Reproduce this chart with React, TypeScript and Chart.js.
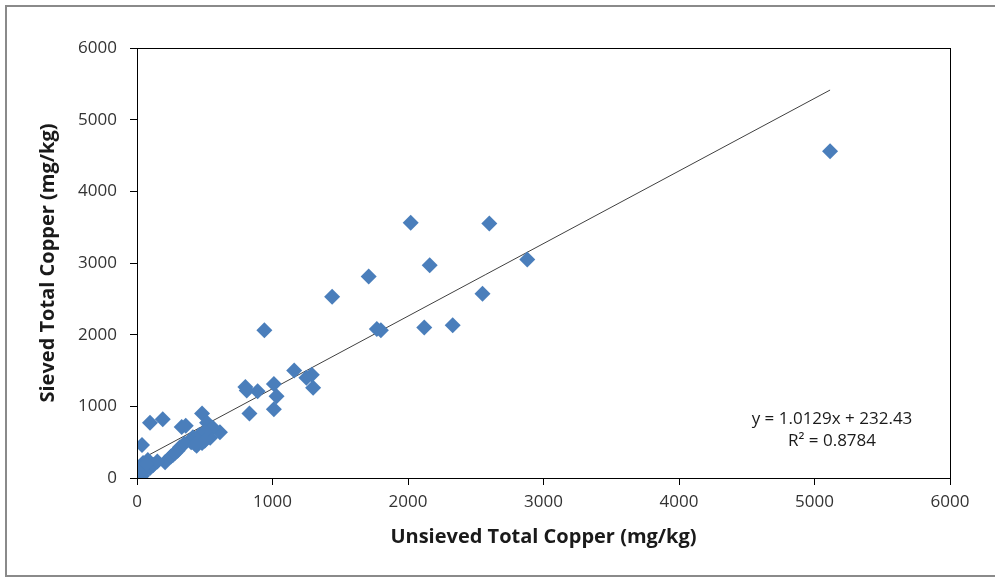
import React, { useEffect, useRef } from "react";
import { Chart, registerables } from "chart.js";

Chart.register(...registerables);

// Unsieved total copper (mg/kg)
const unsievedX = [
  5115, 2880, 2600, 2550, 2330, 2160, 2020, 2120, 1800, 1770, 1710, 1440,
  1300, 1290, 1250, 1160, 1030, 1010, 1010, 940, 890, 830, 800, 810,
  96, 190, 480, 330, 360, 517, 612, 560, 37, 413, 480, 540,
  440, 207, 265, 317, 300, 45, 60, 37, 96, 80, 120, 20,
  250, 400, 460, 500, 350, 280, 150, 70, 500, 430,
];
// Sieved total copper (mg/kg)
const sievedY = [
  4560, 3050, 3550, 2570, 2130, 2970, 3560, 2100, 2060, 2080, 2810, 2530,
  1260, 1440, 1400, 1500, 1140, 960, 1310, 2060, 1210, 900, 1270, 1220,
  770, 820, 900, 710, 730, 770, 640, 700, 460, 570, 490, 560,
  450, 220, 320, 430, 380, 210, 110, 30, 140, 250, 180, 80,
  300, 500, 600, 650, 480, 350, 230, 200, 520, 470,
];

const trendSlope = 1.0129;
const trendIntercept = 232.43;
const trendRangeX = [25, 5115];
const equationLines = ["y = 1.0129x + 232.43", "R² = 0.8784"];

const xTitle = "Unsieved Total Copper (mg/kg)";
const yTitle = "Sieved Total Copper (mg/kg)";
const axisMin = 0;
const axisMax = 6000;
const axisStep = 1000;

const FONT = "'Open Sans', Lato, 'DejaVu Sans', sans-serif";

export default function App() {
  const ref = useRef<HTMLCanvasElement | null>(null);

  useEffect(() => {
    if (!ref.current) return;
    const points = unsievedX.map((x, i) => ({ x, y: sievedY[i] }));
    const trend = trendRangeX.map((x) => ({ x, y: trendSlope * x + trendIntercept }));

    const boxPlugin = {
      id: "boxAndEquation",
      afterDatasetsDraw(chart: any) {
        const { ctx, chartArea } = chart;
        ctx.save();
        ctx.strokeStyle = "#000";
        ctx.lineWidth = 1;
        ctx.strokeRect(
          Math.round(chartArea.left) + 0.5,
          Math.round(chartArea.top) + 0.5,
          Math.round(chartArea.right - chartArea.left),
          Math.round(chartArea.bottom - chartArea.top)
        );
        ctx.fillStyle = "#1a1a1a";
        ctx.font = `17px ${FONT}`;
        ctx.textAlign = "center";
        ctx.textBaseline = "middle";
        ctx.fillText(equationLines[0], 832, 419);
        ctx.fillText(equationLines[1], 832, 441);
        ctx.restore();
      },
    };

    const tickFmt = (v: any) => String(v);

    const chart = new Chart(ref.current, {
      type: "scatter",
      data: {
        datasets: [
          {
            label: "Copper",
            data: points,
            pointStyle: "rectRot",
            pointRadius: 8,
            pointHoverRadius: 8,
            backgroundColor: "#4A7EBB",
            borderColor: "#4A7EBB",
            borderWidth: 0,
          },
          {
            type: "line",
            label: "Trend",
            data: trend,
            showLine: true,
            borderColor: "#404040",
            borderWidth: 1,
            pointRadius: 0,
            fill: false,
          } as any,
        ],
      },
      options: {
        responsive: false,
        animation: false,
        events: [],
        layout: { padding: { left: 0, top: 48, right: 45, bottom: 0 } },
        plugins: {
          legend: { display: false },
          tooltip: { enabled: false },
        },
        scales: {
          x: {
            type: "linear",
            min: axisMin,
            max: axisMax,
            ticks: {
              stepSize: axisStep,
              color: "#333",
              font: { family: FONT, size: 17 },
              padding: 7,
              maxRotation: 0,
              callback: tickFmt,
            },
            grid: {
              drawOnChartArea: false,
              drawTicks: true,
              tickLength: 7,
              color: "#000",
            },
            border: { color: "#000", width: 1 },
            title: {
              display: true,
              text: xTitle,
              color: "#1a1a1a",
              font: { family: FONT, size: 20, weight: "bold" },
              padding: { top: 0, bottom: 28 },
            },
            afterFit: (scale: any) => {
              scale.height = 99;
            },
          },
          y: {
            type: "linear",
            min: axisMin,
            max: axisMax,
            ticks: {
              stepSize: axisStep,
              color: "#333",
              font: { family: FONT, size: 17 },
              padding: 13,
              callback: tickFmt,
            },
            grid: {
              drawOnChartArea: false,
              drawTicks: true,
              tickLength: 7,
              color: "#000",
            },
            border: { color: "#000", width: 1 },
            title: {
              display: true,
              text: yTitle,
              color: "#1a1a1a",
              font: { family: FONT, size: 20, weight: "bold" },
              padding: { top: 36, bottom: 0 },
            },
            afterFit: (scale: any) => {
              scale.width = 137;
            },
          },
        },
      },
      plugins: [boxPlugin],
    } as any);

    return () => chart.destroy();
  }, []);

  return (
    <div
      style={{
        position: "absolute",
        left: 0,
        top: 0,
        width: 995,
        height: 577,
        overflow: "hidden",
        background: "#fff",
      }}
    >
      <div
        style={{
          position: "absolute",
          left: 5,
          top: 5,
          width: 1000,
          height: 572,
          boxSizing: "border-box",
          border: "2px solid #8a8a8a",
        }}
      />
      <canvas
        ref={ref}
        width={995}
        height={577}
        style={{ position: "absolute", left: 0, top: 0, width: 995, height: 577 }}
      />
    </div>
  );
}
